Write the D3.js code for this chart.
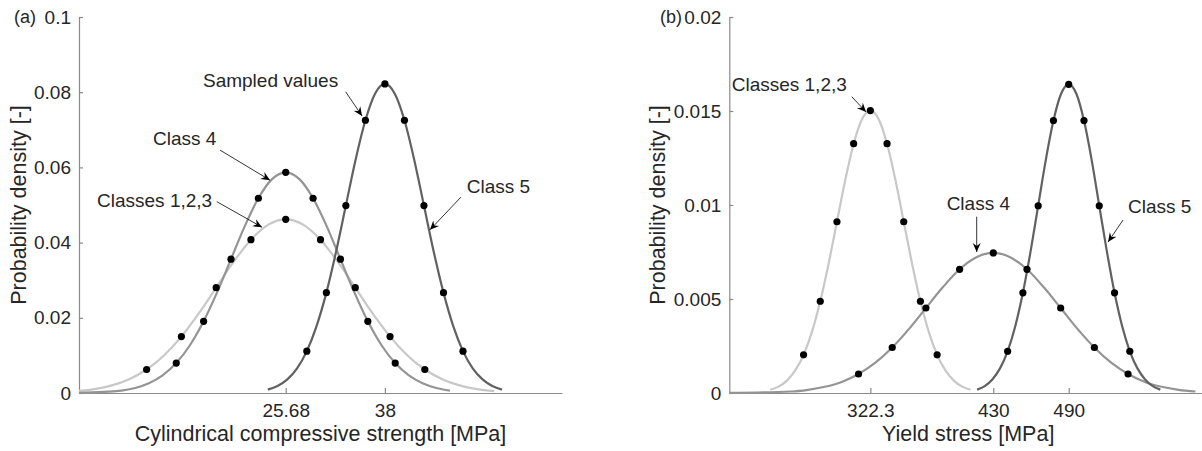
<!DOCTYPE html>
<html>
<head>
<meta charset="utf-8">
<script src="https://cdn.jsdelivr.net/npm/d3@7"></script>
<style>
    body { margin: 0; background: #fff; }
    svg text { font-family: "Liberation Sans", Arial, Helvetica, sans-serif; fill: #262626; }
</style>
</head>
<body>
<div id="chart"></div>
<script>
// ---- Panel (a): concrete, cylindrical compressive strength ----
var aXTicks = [25.68, 38];
var aXTickLabels = ['25.68', '38'];
var aYTicks = [0, 0.02, 0.04, 0.06, 0.08, 0.1];
var aYTickLabels = ['0', '0.02', '0.04', '0.06', '0.08', '0.1'];

// Classes 1,2,3
var aC123X = [-0.24, 1.92, 4.08, 6.24, 8.40, 10.56, 12.72, 14.88, 17.04, 19.20, 21.36, 23.52, 25.68, 27.84, 30.00, 32.16, 34.32, 36.48, 38.64, 40.80, 42.96, 45.12, 47.28, 49.44, 51.60];
var aC123Y = [0.00051, 0.00105, 0.00203, 0.00368, 0.00625, 0.00999, 0.01500, 0.02115, 0.02802, 0.03487, 0.04077, 0.04478, 0.04620, 0.04478, 0.04077, 0.03487, 0.02802, 0.02115, 0.01500, 0.00999, 0.00625, 0.00368, 0.00203, 0.00105, 0.00051];
var aC123DotX = [8.40, 12.72, 17.04, 21.36, 25.68, 30.00, 34.32, 38.64, 42.96];
var aC123DotY = [0.00625, 0.01500, 0.02802, 0.04077, 0.04620, 0.04077, 0.02802, 0.01500, 0.00625];

// Class 4
var aC4X = [0, 5.28, 6.98, 8.68, 10.38, 12.08, 13.78, 15.48, 17.18, 18.88, 20.58, 22.28, 23.98, 25.68, 27.38, 29.08, 30.78, 32.48, 34.18, 35.88, 37.58, 39.28, 40.98, 42.68, 44.38, 46.08];
var aC4Y = [0.00005, 0.00065, 0.00134, 0.00258, 0.00467, 0.00795, 0.01270, 0.01906, 0.02688, 0.03560, 0.04431, 0.05180, 0.05689, 0.05870, 0.05689, 0.05180, 0.04431, 0.03560, 0.02688, 0.01906, 0.01270, 0.00795, 0.00467, 0.00258, 0.00134, 0.00065];
var aC4DotX = [12.08, 15.48, 18.88, 22.28, 25.68, 29.08, 32.48, 35.88, 39.28];
var aC4DotY = [0.00795, 0.01906, 0.03560, 0.05180, 0.05870, 0.05180, 0.03560, 0.01906, 0.00795];

// Class 5
var aC5X = [23.45, 24.66, 25.88, 27.09, 28.30, 29.51, 30.73, 31.94, 33.15, 34.36, 35.58, 36.79, 38.00, 39.21, 40.43, 41.64, 42.85, 44.06, 45.28, 46.49, 47.70, 48.91, 50.13, 51.34, 52.55];
var aC5Y = [0.00091, 0.00187, 0.00361, 0.00654, 0.01113, 0.01778, 0.02669, 0.03763, 0.04986, 0.06205, 0.07254, 0.07967, 0.08220, 0.07967, 0.07254, 0.06205, 0.04986, 0.03763, 0.02669, 0.01778, 0.01113, 0.00654, 0.00361, 0.00187, 0.00091];
var aC5DotX = [28.30, 30.73, 33.15, 35.58, 38.00, 40.43, 42.85, 45.28, 47.70];
var aC5DotY = [0.01113, 0.02669, 0.04986, 0.07254, 0.08220, 0.07254, 0.04986, 0.02669, 0.01113];

// ---- Panel (b): steel, yield stress ----
var bXTicks = [332.2, 430, 490];
var bXTickLabels = ['322.3', '430', '490'];
var bYTicks = [0, 0.005, 0.01, 0.015, 0.02];
var bYTickLabels = ['0', '0.005', '0.01', '0.015', '0.02'];

// Classes 1,2,3
var bC123X = [252.52, 259.16, 265.80, 272.44, 279.08, 285.72, 292.36, 299.00, 305.64, 312.28, 318.92, 325.56, 332.20, 338.84, 345.48, 352.12, 358.76, 365.40, 372.04, 378.68, 385.32, 391.96, 398.60, 405.24, 411.88];
var bC123Y = [0.00017, 0.00034, 0.00066, 0.00120, 0.00203, 0.00325, 0.00488, 0.00688, 0.00911, 0.01134, 0.01326, 0.01456, 0.01502, 0.01456, 0.01326, 0.01134, 0.00911, 0.00688, 0.00488, 0.00325, 0.00203, 0.00120, 0.00066, 0.00034, 0.00017];
var bC123DotX = [279.08, 292.36, 305.64, 318.92, 332.20, 345.48, 358.76, 372.04, 385.32];
var bC123DotY = [0.00203, 0.00488, 0.00911, 0.01326, 0.01502, 0.01326, 0.00911, 0.00488, 0.00203];

// Class 4
var bC4X = [220, 269.2, 282.6, 296.0, 309.4, 322.8, 336.2, 349.6, 363.0, 376.4, 389.8, 403.2, 416.6, 430.0, 443.4, 456.8, 470.2, 483.6, 497.0, 510.4, 523.8, 537.2, 550.6, 564.0, 577.4, 590.8];
var bC4Y = [0.00001, 0.00008, 0.00017, 0.00033, 0.00059, 0.00101, 0.00161, 0.00242, 0.00341, 0.00452, 0.00562, 0.00658, 0.00722, 0.00745, 0.00722, 0.00658, 0.00562, 0.00452, 0.00341, 0.00242, 0.00161, 0.00101, 0.00059, 0.00033, 0.00017, 0.00008];
var bC4DotX = [322.8, 349.6, 376.4, 403.2, 430.0, 456.8, 483.6, 510.4, 537.2];
var bC4DotY = [0.00101, 0.00242, 0.00452, 0.00658, 0.00745, 0.00658, 0.00452, 0.00242, 0.00101];

// Class 5
var bC5X = [417.10, 423.18, 429.25, 435.33, 441.40, 447.48, 453.55, 459.63, 465.70, 471.78, 477.85, 483.93, 490.00, 496.08, 502.15, 508.23, 514.30, 520.38, 526.45, 532.53, 538.60, 544.68, 550.75, 556.83, 562.90];
var bC5Y = [0.00018, 0.00037, 0.00072, 0.00131, 0.00222, 0.00355, 0.00533, 0.00752, 0.00996, 0.01240, 0.01449, 0.01592, 0.01642, 0.01592, 0.01449, 0.01240, 0.00996, 0.00752, 0.00533, 0.00355, 0.00222, 0.00131, 0.00072, 0.00037, 0.00018];
var bC5DotX = [441.40, 453.55, 465.70, 477.85, 490.00, 502.15, 514.30, 526.45, 538.60];
var bC5DotY = [0.00222, 0.00533, 0.00996, 0.01449, 0.01642, 0.01449, 0.00996, 0.00533, 0.00222];

// Set default values
var width = 1202,
    height = 451,
    tickFont = 19,
    labelFont = 21.5,
    colors = { c123: '#c8c8c8', c4: '#949494', c5: '#616161' };

var svg = d3.select('#chart').append('svg')
    .attr('width', width)
    .attr('height', height)
    .attr('viewBox', `0 0 ${width} ${height}`);

// arrowhead used by the annotations
svg.append('defs').append('marker')
    .attr('id', 'head')
    .attr('viewBox', '-10 -5 10 10')
    .attr('refX', 0)
    .attr('refY', 0)
    .attr('markerUnits', 'userSpaceOnUse')
    .attr('markerWidth', 10)
    .attr('markerHeight', 10)
    .attr('orient', 'auto')
    .append('path')
    .attr('d', 'M0,0 L-9,-4 L-6,0 L-9,4 Z')
    .attr('fill', '#000');

var zip = function(xs, ys) { return xs.map(function(x, i) { return { x: x, y: ys[i] }; }); };

var drawPanel = function(p) {
    var xScale = d3.scaleLinear().domain(p.xDomain).range([p.left, p.right]);
    var yScale = d3.scaleLinear().domain(p.yDomain).range([p.bottom, p.top]);

    var g = svg.append('g').attr('class', 'panel ' + p.id);

    // clip the curves to the axes box
    svg.select('defs').append('clipPath').attr('id', 'clip-' + p.id)
        .append('rect')
        .attr('x', p.left).attr('y', 0)
        .attr('width', width - p.left).attr('height', p.bottom + 1);

    // axes
    var xAxis = d3.axisBottom(xScale)
        .tickValues(p.xTicks)
        .tickFormat(function(d, i) { return p.xTickLabels[i]; })
        .tickSizeInner(-5).tickSizeOuter(0).tickPadding(11);
    var yAxis = d3.axisLeft(yScale)
        .tickValues(p.yTicks)
        .tickFormat(function(d, i) { return p.yTickLabels[i]; })
        .tickSizeInner(-4).tickSizeOuter(0).tickPadding(8);

    var gx = g.append('g').attr('class', 'axis x')
        .attr('transform', 'translate(0,' + p.bottom + ')')
        .call(xAxis);
    var gy = g.append('g').attr('class', 'axis y')
        .attr('transform', 'translate(' + p.left + ',0)')
        .call(yAxis);
    [gx, gy].forEach(function(a) {
        a.selectAll('path, line').attr('stroke', '#8a8a8a').attr('stroke-width', 1.2);
        a.selectAll('text').attr('font-size', tickFont).attr('fill', '#262626')
            .style('font-family', '"Liberation Sans", Arial, sans-serif');
    });

    // curves
    var line = d3.line()
        .x(function(d) { return xScale(d.x); })
        .y(function(d) { return yScale(d.y); })
        .curve(d3.curveMonotoneX);

    var plot = g.append('g').attr('clip-path', 'url(#clip-' + p.id + ')');
    plot.selectAll('path.curve')
        .data(p.series)
        .enter().append('path')
        .attr('class', 'curve')
        .attr('d', function(s) { return line(zip(s.x, s.y)); })
        .attr('fill', 'none')
        .attr('stroke', function(s) { return s.color; })
        .attr('stroke-width', 2.2);

    // sampled values
    p.series.forEach(function(s) {
        plot.selectAll(null)
            .data(zip(s.dotX, s.dotY))
            .enter().append('circle')
            .attr('cx', function(d) { return xScale(d.x); })
            .attr('cy', function(d) { return yScale(d.y); })
            .attr('r', 3.6)
            .attr('fill', '#000');
    });

    // annotations
    p.notes.forEach(function(n) {
        g.append('line')
            .attr('x1', xScale(n.x1)).attr('y1', yScale(n.y1))
            .attr('x2', xScale(n.x2)).attr('y2', yScale(n.y2))
            .attr('stroke', '#000').attr('stroke-width', 0.8)
            .attr('marker-end', 'url(#head)');
        g.append('text')
            .attr('x', xScale(n.tx)).attr('y', yScale(n.ty))
            .attr('font-size', tickFont)
            .text(n.text);
    });

    // panel tag
    g.append('text')
        .attr('x', p.tagX).attr('y', p.top + 6)
        .attr('font-size', 18)
        .text(p.tag);

    // axis titles
    g.append('text')
        .attr('x', (p.left + p.right) / 2)
        .attr('y', p.bottom + 48)
        .attr('text-anchor', 'middle')
        .attr('font-size', labelFont)
        .text(p.xTitle);
    g.append('text')
        .attr('transform', 'translate(' + p.yTitleX + ',' + ((p.top + p.bottom) / 2) + ') rotate(-90)')
        .attr('text-anchor', 'middle')
        .attr('font-size', labelFont)
        .text(p.yTitle);
};

drawPanel({
    id: 'a', tag: '(a)', tagX: 14, yTitleX: 26,
    left: 79, right: 562, top: 17, bottom: 393,
    xDomain: [0, 60], yDomain: [0, 0.1],
    xTicks: aXTicks, xTickLabels: aXTickLabels,
    yTicks: aYTicks, yTickLabels: aYTickLabels,
    xTitle: 'Cylindrical compressive strength [MPa]',
    yTitle: 'Probability density [-]',
    series: [
        { x: aC123X, y: aC123Y, dotX: aC123DotX, dotY: aC123DotY, color: colors.c123 },
        { x: aC4X, y: aC4Y, dotX: aC4DotX, dotY: aC4DotY, color: colors.c4 },
        { x: aC5X, y: aC5Y, dotX: aC5DotX, dotY: aC5DotY, color: colors.c5 }
    ],
    notes: [
        { text: 'Sampled values', tx: 15.4, ty: 0.0814, x1: 33.13, y1: 0.0801, x2: 35.16, y2: 0.0737 },
        { text: 'Class 4', tx: 9.19, ty: 0.0660, x1: 17.52, y1: 0.0646, x2: 23.73, y2: 0.0566 },
        { text: 'Classes 1,2,3', tx: 2.24, ty: 0.0495, x1: 17.11, y1: 0.0509, x2: 22.73, y2: 0.0441 },
        { text: 'Class 5', tx: 48.16, ty: 0.0532, x1: 47.45, y1: 0.0521, x2: 43.6, y2: 0.0434 }
    ]
});

drawPanel({
    id: 'b', tag: '(b)', tagX: 660, yTitleX: 665,
    left: 729.3, right: 1207, top: 17, bottom: 393,
    xDomain: [220, 600], yDomain: [0, 0.02],
    xTicks: bXTicks, xTickLabels: bXTickLabels,
    yTicks: bYTicks, yTickLabels: bYTickLabels,
    xTitle: 'Yield stress [MPa]',
    yTitle: 'Probability density [-]',
    series: [
        { x: bC123X, y: bC123Y, dotX: bC123DotX, dotY: bC123DotY, color: colors.c123 },
        { x: bC4X, y: bC4Y, dotX: bC4DotX, dotY: bC4DotY, color: colors.c4 },
        { x: bC5X, y: bC5Y, dotX: bC5DotX, dotY: bC5DotY, color: colors.c5 }
    ],
    notes: [
        { text: 'Classes 1,2,3', tx: 221.9, ty: 0.01606, x1: 317.4, y1: 0.01576, x2: 328.8, y2: 0.01495 },
        { text: 'Class 4', tx: 392.9, ty: 0.00973, x1: 416.8, y1: 0.00938, x2: 416.8, y2: 0.0075 },
        { text: 'Class 5', tx: 537.2, ty: 0.00957, x1: 533.2, y1: 0.0092, x2: 521.3, y2: 0.00803 }
    ]
});
</script>
</body>
</html>
